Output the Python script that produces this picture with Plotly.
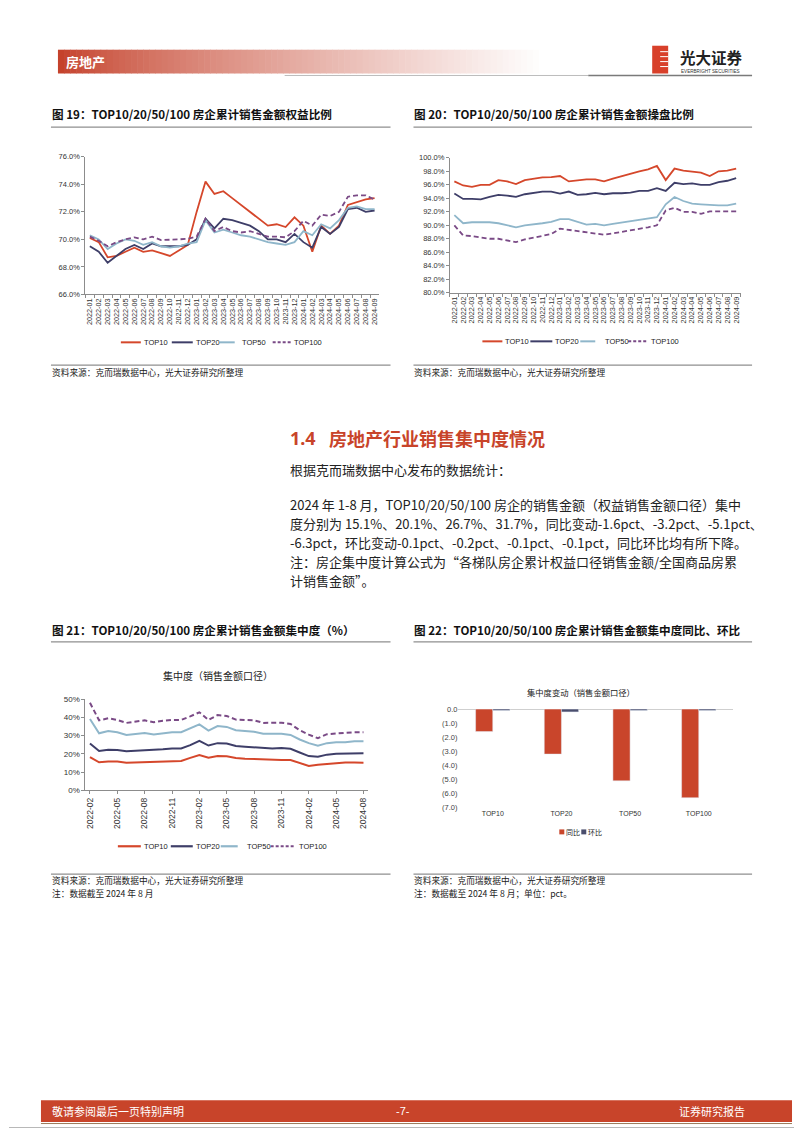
import plotly.graph_objects as go

# The page body keeps an 8px margin, so the figure is sized to the visible area
# and every page-pixel position is shifted by that margin.
OFF = 8
W, H = 802 - OFF, 1133 - OFF
def X(px): return (px - OFF) / W
def Y(py): return 1 - (py - OFF) / H

FONT = "Liberation Sans, Noto Sans CJK SC, sans-serif"
CJK = "Noto Sans CJK SC, sans-serif"

# ---------------- data ----------------
months = ["2022-01","2022-02","2022-03","2022-04","2022-05","2022-06","2022-07","2022-08",
          "2022-09","2022-10","2022-11","2022-12","2023-01","2023-02","2023-03","2023-04",
          "2023-05","2023-06","2023-07","2023-08","2023-09","2023-10","2023-11","2023-12",
          "2024-01","2024-02","2024-03","2024-04","2024-05","2024-06","2024-07","2024-08","2024-09"]

# Fig 19: equity ratio (%)
eq_top10 = [70.1,69.8,68.7,68.8,69.1,69.4,69.1,69.2,69.0,68.8,69.2,69.6,72.0,74.2,73.3,73.5,
            73.0,72.5,72.0,71.5,71.0,71.1,70.9,71.6,71.0,69.1,71.0,70.4,71.0,72.5,72.7,72.9,73.0]
eq_top20 = [69.5,69.1,68.3,68.8,69.3,69.6,69.3,69.7,69.5,69.5,69.5,69.6,70.0,71.5,70.8,71.5,
            71.4,71.2,71.0,70.6,70.0,70.0,69.8,70.4,69.8,69.4,70.9,70.4,70.9,72.2,72.3,72.0,72.1]
eq_top50 = [70.3,70.0,69.3,69.7,70.0,69.9,69.6,69.8,69.5,69.4,69.5,69.7,69.8,71.4,70.5,70.7,
            70.5,70.3,70.2,70.0,69.8,69.7,69.6,69.8,70.6,70.3,71.1,70.8,71.4,72.3,72.4,72.2,72.2]
eq_top100 = [70.2,69.9,69.5,69.8,70.0,70.15,70.0,70.2,69.95,69.95,70.0,70.05,70.2,71.5,70.6,70.9,
             70.6,70.5,70.6,70.4,70.2,70.2,70.15,70.6,71.35,71.0,71.8,71.7,72.0,73.1,73.2,73.2,72.9]

# Fig 20: operating ratio (%)
op_top10 = [96.5,95.9,95.7,96.0,96.0,96.7,96.5,96.1,96.7,96.9,97.1,97.15,97.3,96.5,96.7,96.8,
            96.8,96.5,96.9,97.3,97.7,98.0,98.3,98.8,96.7,98.4,98.1,97.9,97.8,97.3,98.0,98.1,98.4]
op_top20 = [94.7,93.9,93.9,93.85,94.2,94.5,94.4,94.2,94.6,94.85,95.0,95.0,94.7,95.0,94.5,94.6,
            94.8,94.6,94.75,94.75,94.85,95.1,95.1,95.5,95.1,96.3,96.1,96.2,96.0,96.0,96.4,96.6,97.0]
op_top50 = [91.5,90.3,90.45,90.45,90.45,90.3,90.0,89.7,90.0,90.1,90.3,90.5,90.9,90.9,90.45,90.1,
            90.2,90.0,90.2,90.4,90.6,90.8,91.0,91.2,93.1,94.2,93.6,93.2,93.1,93.0,92.95,92.95,93.2]
op_top100 = [90.0,88.5,88.4,88.15,88.0,88.0,87.7,87.5,87.9,88.2,88.5,88.7,89.5,89.3,89.2,89.0,
             88.8,88.6,88.8,89.0,89.3,89.5,89.7,90.0,92.2,92.6,92.0,92.0,91.7,92.05,92.05,92.05,92.05]

# Fig 21: concentration (%), 2022-02 .. 2024-08
months21 = months[1:32]
cc_top10 = [18.3,15.4,15.8,15.8,15.2,15.4,15.6,15.4,15.6,15.8,16.1,17.8,19.4,17.9,18.8,18.7,
            17.8,17.4,17.2,16.7,16.5,16.7,16.7,15.0,13.4,14.1,14.5,15.0,15.3,15.3,15.2]
cc_top20 = [25.7,21.6,22.3,22.1,21.4,21.6,22.1,21.9,22.5,23.0,23.0,24.8,27.2,24.6,25.9,25.7,
            24.3,23.9,23.6,23.0,23.0,23.2,22.8,20.8,18.8,18.5,19.6,20.1,20.3,20.3,20.3]
cc_top50 = [39.1,31.3,32.6,31.9,30.4,31.0,31.5,30.6,31.3,31.9,31.9,34.1,36.2,32.8,35.3,34.8,
            33.0,32.6,32.1,31.0,31.0,31.0,30.4,27.9,25.9,24.5,25.9,26.4,26.4,27.0,27.0]
cc_top100 = [48.0,38.4,39.5,38.6,37.0,37.7,38.4,37.3,38.2,38.6,38.6,40.6,42.8,38.6,41.3,40.8,
             38.8,38.6,38.4,37.0,37.1,37.1,36.4,33.0,30.6,28.6,30.8,31.2,31.2,31.9,31.9]

# Fig 22: change (pct)
cats22 = ["TOP10", "TOP20", "TOP50", "TOP100"]
yoy22 = [-1.6, -3.2, -5.1, -6.3]
mom22 = [-0.1, -0.2, -0.1, -0.1]
y22_ticks = [0, -1, -2, -3, -4, -5, -6, -7]
y22_text = ["0.0", "(1.0)", "(2.0)", "(3.0)", "(4.0)", "(5.0)", "(6.0)", "(7.0)"]

names = ["TOP10", "TOP20", "TOP50", "TOP100"]
COL = {"TOP10": "#D5472B", "TOP20": "#3E3E68", "TOP50": "#8FB6CA", "TOP100": "#7A4A86"}
DASH = {"TOP10": "solid", "TOP20": "solid", "TOP50": "solid", "TOP100": "5px,3px"}

fig = go.Figure()

def add_lines(xs, series, xa, ya, width):
    for n, vals in zip(names, series):
        fig.add_trace(go.Scatter(x=xs, y=vals, mode="lines", name=n, showlegend=False,
                                 hoverinfo="skip", xaxis=xa, yaxis=ya,
                                 line=dict(color=COL[n], width=width, dash=DASH[n])))

add_lines(months, [eq_top10, eq_top20, eq_top50, eq_top100], "x", "y", 1.8)
add_lines(months, [op_top10, op_top20, op_top50, op_top100], "x2", "y2", 1.8)
add_lines(months21, [cc_top10, cc_top20, cc_top50, cc_top100], "x3", "y3", 2.0)

fig.add_trace(go.Bar(x=cats22, y=yoy22, name="同比", marker_color="#C9452B", showlegend=False,
                     hoverinfo="skip", xaxis="x4", yaxis="y4"))
fig.add_trace(go.Bar(x=cats22, y=mom22, name="环比", marker_color="#4B4E6D", showlegend=False,
                     hoverinfo="skip", xaxis="x4", yaxis="y4"))

AX = "#8c8c8c"
def xcat(dom, anchor, rng, size, **kw):
    d = dict(domain=[X(dom[0]), X(dom[1])], anchor=anchor, type="category", range=rng,
             showgrid=False, zeroline=False, showline=True, linecolor=AX, linewidth=1,
             ticks="outside", tickcolor=AX, ticklen=3, tickangle=-90,
             tickfont=dict(size=size, color="#333", family=FONT))
    d.update(kw)
    return d

def yval(dom, anchor, rng, dtick, size, **kw):
    d = dict(domain=[Y(dom[1]), Y(dom[0])], anchor=anchor, range=rng, dtick=dtick,
             showgrid=False, zeroline=False, showline=True, linecolor=AX, linewidth=1,
             ticks="outside", tickcolor=AX, ticklen=3,
             tickfont=dict(size=size, color="#333", family=FONT))
    d.update(kw)
    return d

layout_axes = dict(
    xaxis=xcat((84.5, 378.5), "y", [-0.5, 32.5], 7.3, tickson="boundaries",
               tickmode="array", tickvals=months, ticktext=months),
    yaxis=yval((154, 292.7), "x", [66, 76], 2, 7.5, tickformat=".1f", ticksuffix="%"),
    xaxis2=xcat((449.5, 740.5), "y2", [-0.5, 32.5], 7.3, tickson="boundaries",
                tickmode="array", tickvals=months, ticktext=months),
    yaxis2=yval((155, 291), "x2", [80, 100], 2, 7.5, tickformat=".1f", ticksuffix="%"),
    xaxis3=xcat((84.5, 367.5), "y3", [-0.5, 30.5], 8.5,
                tickmode="array", tickvals=months21[::3], ticktext=months21[::3]),
    yaxis3=yval((700.7, 792.7), "x3", [0, 50], 10, 8, ticksuffix="%"),
    xaxis4=dict(domain=[X(458), X(733)], anchor="y4", type="category", showgrid=False,
                showline=False, zeroline=False, ticks="",
                tickfont=dict(size=7, color="#333", family=FONT)),
    yaxis4=dict(domain=[Y(810), Y(710.7)], anchor="x4", range=[-7, 0], showgrid=False,
                showline=False, zeroline=True, zerolinecolor="#cfcfcf", zerolinewidth=1,
                tickmode="array", tickvals=y22_ticks, ticktext=y22_text, ticks="",
                tickfont=dict(size=7.5, color="#444", family=FONT)),
)

shapes = []
annotations = []

def line(x0, y0, x1, y1, color, width=1, dash="solid"):
    shapes.append(dict(type="line", xref="paper", yref="paper", x0=X(x0), x1=X(x1),
                       y0=Y(y0), y1=Y(y1), line=dict(color=color, width=width, dash=dash)))

def rect(x0, y0, x1, y1, color, lw=0, lc=None):
    shapes.append(dict(type="rect", xref="paper", yref="paper", x0=X(x0), x1=X(x1),
                       y0=Y(y1), y1=Y(y0), fillcolor=color,
                       line=dict(width=lw, color=lc or color), layer="below"))

def txt(x, y, s, size, color="#000", anchor="left", family=CJK, bold=False):
    annotations.append(dict(x=X(x), y=Y(y), xref="paper", yref="paper", text=(f"<b>{s}</b>" if bold else s),
                            showarrow=False, xanchor=anchor, yanchor="middle", borderpad=0,
                            font=dict(size=size, color=color, family=family)))

# page border (right and bottom edges are inside the visible area)
line(801.5, 8, 801.5, 1132.5, "#b8b8b8", 1)
line(8, 1132.5, 801.5, 1132.5, "#b8b8b8", 1)

# header gradient bar
N = 80
x_start, x_end = 57, 545
c0 = (197, 66, 44)
for i in range(N):
    t = i / (N - 1)
    tt = t ** 0.8
    c = tuple(int(c0[k] + (255 - c0[k]) * tt) for k in range(3))
    xa = x_start + (x_end - x_start) * i / N
    xb = x_start + (x_end - x_start) * (i + 1) / N + 0.6
    rect(xa, 46, xb, 70, "rgb(%d,%d,%d)" % c)
txt(64, 58, "房地产", 13, "#ffffff", bold=True)
line(284, 72, 588, 72, "#bdbdbd", 1)
line(588, 72, 752, 72, "#7a7a7a", 1.6)

# logo
rect(652, 42, 668, 70, "#D8402A")
for yy in (48, 53, 58, 63):
    line(660, yy, 668, yy, "#ffffff", 1)
txt(679, 53.5, "光大证券", 15.5, "#222", bold=True)
txt(680, 67.5, "EVERBRIGHT SECURITIES", 4.6, "#333", family=FONT)

# chart titles and rules
txt(50, 111, "图 19：TOP10/20/50/100 房企累计销售金额权益比例", 11.6, "#111", bold=True)
txt(413, 111, "图 20：TOP10/20/50/100 房企累计销售金额操盘比例", 11.6, "#111", bold=True)
line(50, 124, 390, 124, "#8f8f8f", 1.2)
line(413, 124, 752, 124, "#8f8f8f", 1.2)
line(50, 364, 390, 364, "#8f8f8f", 1.2)
line(413, 364, 752, 364, "#8f8f8f", 1.2)
txt(50, 371, "资料来源：克而瑞数据中心，光大证券研究所整理", 8.7, "#222")
txt(413, 371, "资料来源：克而瑞数据中心，光大证券研究所整理", 8.7, "#222")

txt(50, 631, "图 21：TOP10/20/50/100 房企累计销售金额集中度（%）", 11.6, "#111", bold=True)
txt(413, 631, "图 22：TOP10/20/50/100 房企累计销售金额集中度同比、环比", 11.6, "#111", bold=True)
line(50, 643, 390, 643, "#8f8f8f", 1.2)
line(413, 643, 752, 643, "#8f8f8f", 1.2)
line(50, 877, 390, 877, "#8f8f8f", 1.2)
line(413, 877, 752, 877, "#8f8f8f", 1.2)
txt(50, 884, "资料来源：克而瑞数据中心，光大证券研究所整理", 8.7, "#222")
txt(413, 884, "资料来源：克而瑞数据中心，光大证券研究所整理", 8.7, "#222")
txt(50, 897, "注：数据截至 2024 年 8 月", 8.7, "#222")
txt(413, 897, "注：数据截至 2024 年 8 月；单位：pct。", 8.7, "#222")

# chart inner titles
txt(217, 677, "集中度（销售金额口径）", 10, "#222", anchor="center")
txt(581, 693, "集中度变动（销售金额口径）", 8.3, "#222", anchor="center")

# legends (line charts)
def legend(items, y, lw):
    for (n, a, b, tx) in items:
        line(a, y, b, y, COL[n], lw, "solid" if n != "TOP100" else "3px,2px")
        txt(tx, y, n, 7.5, "#222", family=FONT)

legend([("TOP10", 120, 140, 142), ("TOP20", 171, 192, 194), ("TOP50", 219, 234, 240), ("TOP100", 272, 290, 292)], 341, 2)
legend([("TOP10", 482, 502, 504), ("TOP20", 530, 552, 554), ("TOP50", 580, 595, 604), ("TOP100", 628, 648, 650)], 340, 2)
legend([("TOP10", 117, 140, 142), ("TOP20", 170, 192, 194), ("TOP50", 220, 237, 245), ("TOP100", 270, 293, 297)], 849, 2.2)

# legend chart 22
rect(559, 832, 564, 837, "#C9452B")
txt(565, 835, "同比", 7, "#222")
rect(581, 832, 586, 837, "#4B4E6D")
txt(587, 835, "环比", 7, "#222")

# section text
RED = "#C8442A"
txt(288, 437, "1.4", 18, RED, family="Noto Sans, sans-serif", bold=True)
txt(327, 437, "房地产行业销售集中度情况", 18, RED, bold=True)
body = [
    (469, "根据克而瑞数据中心发布的数据统计："),
    (504, "2024 年 1-8 月，TOP10/20/50/100 房企的销售金额（权益销售金额口径）集中"),
    (524, "度分别为 15.1%、20.1%、26.7%、31.7%，同比变动-1.6pct、-3.2pct、-5.1pct、"),
    (543, "-6.3pct，环比变动-0.1pct、-0.2pct、-0.1pct、-0.1pct，同比环比均有所下降。"),
    (562, "注：房企集中度计算公式为“各梯队房企累计权益口径销售金额/全国商品房累"),
    (581, "计销售金额”。"),
]
for yy, s in body:
    txt(288, yy, s, 13, "#222")

# footer
rect(40, 1105, 792, 1127, "#C8442A")
line(40, 1128.5, 792, 1128.5, "#9a7a5a", 1)
txt(50, 1116, "敬请参阅最后一页特别声明", 11, "#ffffff")
txt(402, 1116, "-7-", 11, "#ffffff", anchor="center", family=FONT)
txt(746, 1116, "证券研究报告", 11, "#ffffff", anchor="right")

fig.update_layout(
    width=W, height=H, margin=dict(l=0, r=0, t=0, b=0),
    paper_bgcolor="white", plot_bgcolor="white",
    barmode="group", bargap=0.5, bargroupgap=0,
    shapes=shapes, annotations=annotations, showlegend=False,
    font=dict(family=FONT),
    **layout_axes,
)

fig.write_html("out.html")
